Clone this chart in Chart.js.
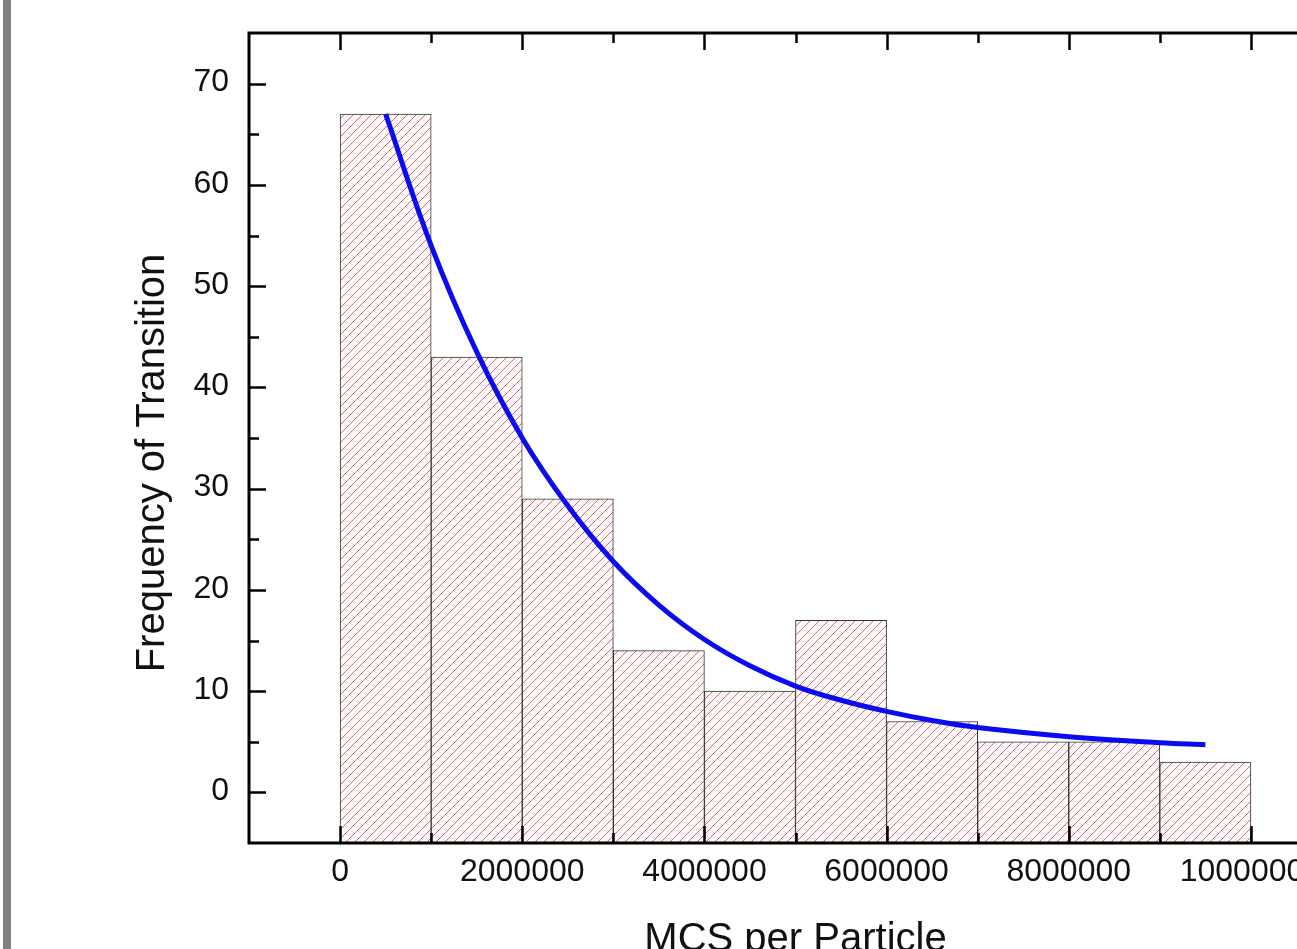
<!DOCTYPE html>
<html>
<head>
<meta charset="utf-8">
<title>MCS per Particle histogram</title>
<script src="https://cdn.jsdelivr.net/npm/chart.js@4.4.1/dist/chart.umd.min.js"></script>
<style>
  html, body { margin: 0; padding: 0; background: #fff; overflow: hidden; }
  #wrap { position: relative; width: 1297px; height: 949px; overflow: hidden; }
  #edge { position: absolute; left: 3px; top: 0; width: 8px; height: 949px; background: #808080; }
  #myChart { position: absolute; left: 0; top: 0; }
</style>
</head>
<body>
<div id="wrap">
  <div id="edge"></div>
  <canvas id="myChart" width="1400" height="1000"></canvas>
</div>
<script>
'use strict'

// histogram bins (centre of each 1,000,000 wide bin) and counts
let binCenters = [500000, 1500000, 2500000, 3500000, 4500000, 5500000, 6500000, 7500000, 8500000, 9500000];
let binCounts = [67, 43, 29, 14, 10, 17, 7, 5, 5, 3];

// fitted decay curve
let fitX = [500000, 1000000, 1500000, 2000000, 2500000, 3000000, 3500000, 4000000, 4500000, 5000000, 5500000, 6000000, 6500000, 7000000, 8000000, 9000000, 9500000];
let fitY = [67, 54, 43.5, 35, 28.3, 22.8, 18.5, 15.1, 12.5, 10.5, 9.1, 8.0, 7.1, 6.4, 5.5, 4.9, 4.7];

// axes
const X_MIN = -1000000;
const X_MAX = 11000000;
const Y_MIN = -5;
const Y_MAX = 75;
let xTickValues = [0, 2000000, 4000000, 6000000, 8000000, 10000000];
let xMinorValues = [1000000, 3000000, 5000000, 7000000, 9000000];
let yTickValues = [0, 10, 20, 30, 40, 50, 60, 70];
let yMinorValues = [5, 15, 25, 35, 45, 55, 65];

const FONT = 'Liberation Sans, Arial, Helvetica, sans-serif';

const ctx = document.getElementById('myChart').getContext('2d');

// red hatch pattern for the bars
function makeHatch() {
  let s = 9;
  let c = document.createElement('canvas');
  c.width = s;
  c.height = s;
  let g = c.getContext('2d');
  g.fillStyle = '#fdf8f8';
  g.fillRect(0, 0, s, s);
  g.strokeStyle = 'rgb(212, 105, 122)';
  g.lineWidth = 1;
  g.beginPath();
  g.moveTo(-1, s + 1); g.lineTo(s + 1, -1);
  g.moveTo(-1, 1); g.lineTo(1, -1);
  g.moveTo(s - 1, s + 1); g.lineTo(s + 1, s - 1);
  g.stroke();
  return ctx.createPattern(c, 'repeat');
}

// frame, inward ticks and axis titles
const framePlugin = {
  id: 'frame',
  afterDatasetsDraw(chart) {
    let c = chart.ctx;
    let a = chart.chartArea;
    let xs = chart.scales.x;
    let ys = chart.scales.y;
    c.save();
    c.strokeStyle = '#000';
    c.lineWidth = 2.5;
    c.beginPath();
    // x ticks top and bottom
    xTickValues.forEach(v => {
      let px = Math.round(xs.getPixelForValue(v)) + 0.5;
      c.moveTo(px, a.top); c.lineTo(px, a.top + 17);
      c.moveTo(px, a.bottom); c.lineTo(px, a.bottom - 17);
    });
    xMinorValues.forEach(v => {
      let px = Math.round(xs.getPixelForValue(v)) + 0.5;
      c.moveTo(px, a.top); c.lineTo(px, a.top + 10);
      c.moveTo(px, a.bottom); c.lineTo(px, a.bottom - 10);
    });
    // y ticks left and right
    yTickValues.forEach(v => {
      let py = Math.round(ys.getPixelForValue(v)) + 0.5;
      c.moveTo(a.left, py); c.lineTo(a.left + 17, py);
      c.moveTo(a.right, py); c.lineTo(a.right - 17, py);
    });
    yMinorValues.forEach(v => {
      let py = Math.round(ys.getPixelForValue(v)) + 0.5;
      c.moveTo(a.left, py); c.lineTo(a.left + 10, py);
      c.moveTo(a.right, py); c.lineTo(a.right - 10, py);
    });
    c.stroke();
    c.lineWidth = 3;
    c.strokeRect(a.left, a.top, a.right - a.left, a.bottom - a.top);
    c.restore();
  },
  afterDraw(chart) {
    let c = chart.ctx;
    let a = chart.chartArea;
    c.save();
    c.fillStyle = '#111';
    c.font = '40px ' + FONT;
    c.textAlign = 'center';
    c.textBaseline = 'alphabetic';
    c.fillText('MCS per Particle', (a.left + a.right) / 2, 951);
    c.translate(164, 463);
    c.rotate(-Math.PI / 2);
    c.fillText('Frequency of Transition', 0, 0);
    c.restore();
  }
};

let barData = binCenters.map((x, i) => ({ x: x, y: binCounts[i] }));
let fitData = fitX.map((x, i) => ({ x: x, y: fitY[i] }));

let config = {
  type: 'bar',
  data: {
    datasets: [{
      type: 'line',
      label: 'fit',
      data: fitData,
      borderColor: '#0b0bf0',
      borderWidth: 5,
      pointRadius: 0,
      tension: 0.4,
      fill: false,
      order: 0
    },
    {
      label: 'count',
      data: barData,
      base: Y_MIN,
      backgroundColor: makeHatch(),
      borderColor: '#333',
      borderWidth: 1,
      borderSkipped: false,
      barPercentage: 1,
      categoryPercentage: 1,
      order: 1
    }]
  },
  options: {
    responsive: false,
    animation: false,
    devicePixelRatio: 1,
    layout: { padding: { left: 0, top: 33, right: 58, bottom: 0 } },
    plugins: { legend: { display: false }, tooltip: { enabled: false } },
    scales: {
      x: {
        type: 'linear',
        offset: false,
        min: X_MIN,
        max: X_MAX,
        grid: { display: false, drawTicks: false, offset: false },
        border: { display: false },
        afterBuildTicks: s => { s.ticks = xTickValues.map(v => ({ value: v })); },
        afterFit: s => { s.height = 157; s.paddingLeft = 0; s.paddingRight = 0; },
        ticks: {
          padding: 10,
          maxRotation: 0,
          autoSkip: false,
          color: '#111',
          font: { family: FONT, size: 32 },
          callback: v => String(v)
        }
      },
      y: {
        type: 'linear',
        min: Y_MIN,
        max: Y_MAX,
        grid: { display: false, drawTicks: false },
        border: { display: false },
        afterBuildTicks: s => { s.ticks = yTickValues.map(v => ({ value: v })); },
        afterFit: s => { s.width = 249; s.paddingTop = 0; s.paddingBottom = 0; },
        ticks: {
          padding: 20,
          labelOffset: -1,
          color: '#111',
          font: { family: FONT, size: 32 }
        }
      }
    }
  },
  plugins: [framePlugin]
};

const myChart = new Chart(ctx, config);
</script>
</body>
</html>
